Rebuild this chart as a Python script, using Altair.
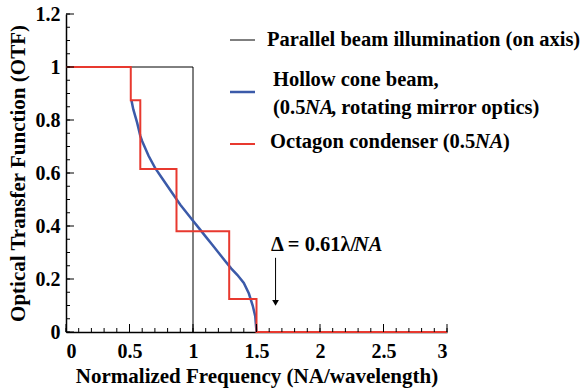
import altair as alt
import pandas as pd

# ---- data ----
par_x = [0, 1, 1]
par_y = [1, 1, 0]

oct_x = [0, 0.51, 0.51, 0.585, 0.585, 0.87, 0.87, 1.285, 1.285, 1.5, 1.5, 3]
oct_y = [1, 1, 0.875, 0.875, 0.615, 0.615, 0.38, 0.38, 0.125, 0.125, 0, 0]

hol_x = [0.515, 0.53, 0.56, 0.585, 0.6, 0.65, 0.7, 0.75, 0.8, 0.85, 0.9, 0.95,
         1.0, 1.05, 1.1, 1.15, 1.2, 1.25, 1.3, 1.35, 1.4, 1.44, 1.47, 1.49, 1.5]
hol_y = [0.875, 0.84, 0.79, 0.74, 0.72, 0.665, 0.62, 0.585, 0.55, 0.515, 0.48, 0.45,
         0.42, 0.39, 0.36, 0.33, 0.30, 0.27, 0.24, 0.215, 0.185, 0.145, 0.10, 0.06, 0.0]

x_major = [0, 0.5, 1, 1.5, 2, 2.5, 3]
x_minor = [round(i * 0.1, 1) for i in range(31)]
y_major = [0, 0.2, 0.4, 0.6, 0.8, 1, 1.2]
y_minor = [round(i * 0.05, 2) for i in range(25)]

arrow_x = [1.65, 1.65]
arrow_y = [0.28, 0.115]
arrow_tip = [0.11]

FONT = "Liberation Serif"
W, H = 381, 318
BLUE = "#3b5aa9"
RED = "#e8392f"

xs = alt.Scale(domain=[0, 3], nice=False)
ys = alt.Scale(domain=[0, 1.2], nice=False)


def line_df(xv, yv):
    return pd.DataFrame({"x": xv, "y": yv, "i": list(range(len(xv)))})


xaxis = alt.Axis(values=x_major, format="~g", title="Normalized Frequency (NA/wavelength)",
                 ticks=False, grid=False, domainColor="black", domainWidth=1.5,
                 labelPadding=9, titlePadding=4, labelFont=FONT, titleFont=FONT)
yaxis = alt.Axis(values=y_major, format="~g", title="Optical Transfer Function (OTF)",
                 ticks=False, grid=False, domainColor="black", domainWidth=1.5,
                 labelPadding=6, titlePadding=7, labelFont=FONT, titleFont=FONT)

par = alt.Chart(line_df(par_x, par_y)).mark_line(color="black", strokeWidth=1).encode(
    x=alt.X("x:Q", scale=xs, axis=xaxis),
    y=alt.Y("y:Q", scale=ys, axis=yaxis),
    order="i:Q",
)
hol = alt.Chart(line_df(hol_x, hol_y)).mark_line(color=BLUE, strokeWidth=2.5).encode(
    x=alt.X("x:Q", scale=xs), y=alt.Y("y:Q", scale=ys), order="i:Q"
)
octl = alt.Chart(line_df(oct_x, oct_y)).mark_line(color=RED, strokeWidth=2).encode(
    x=alt.X("x:Q", scale=xs), y=alt.Y("y:Q", scale=ys), order="i:Q"
)

# inward ticks
xt_major = alt.Chart(pd.DataFrame({"x": x_major})).mark_rule(color="black", strokeWidth=1).encode(
    x=alt.X("x:Q", scale=xs), y=alt.value(H), y2=alt.value(H - 8))
xt_minor = alt.Chart(pd.DataFrame({"x": x_minor})).mark_rule(color="black", strokeWidth=1).encode(
    x=alt.X("x:Q", scale=xs), y=alt.value(H), y2=alt.value(H - 4))
yt_major = alt.Chart(pd.DataFrame({"y": y_major})).mark_rule(color="black", strokeWidth=1).encode(
    y=alt.Y("y:Q", scale=ys), x=alt.value(0), x2=alt.value(8))
yt_minor = alt.Chart(pd.DataFrame({"y": y_minor})).mark_rule(color="black", strokeWidth=1).encode(
    y=alt.Y("y:Q", scale=ys), x=alt.value(0), x2=alt.value(4))

# arrow annotation
arr = alt.Chart(line_df(arrow_x, arrow_y)).mark_line(color="black", strokeWidth=1).encode(
    x=alt.X("x:Q", scale=xs), y=alt.Y("y:Q", scale=ys), order="i:Q")
tip = alt.Chart(pd.DataFrame({"x": arrow_x[:1], "y": arrow_tip})).mark_point(
    shape="triangle-down", filled=True, color="black", size=45, opacity=1).encode(
    x=alt.X("x:Q", scale=xs), y=alt.Y("y:Q", scale=ys))

base_txt = dict(font=FONT, fontWeight="bold", fontSize=20.5, color="black",
                align="left", baseline="middle")


def txt(s, x, y, italic=False):
    kw = dict(base_txt)
    if italic:
        kw["fontStyle"] = "italic"
    return alt.Chart(pd.DataFrame({"t": [s]})).mark_text(**kw).encode(
        text="t:N", x=alt.value(x), y=alt.value(y))


def swatch(color, y, w):
    return alt.Chart(pd.DataFrame({"t": [0]})).mark_rule(color=color, strokeWidth=w).encode(
        x=alt.value(164), x2=alt.value(189), y=alt.value(y))


delta = txt("Δ = 0.61λ/", 205, 231)
delta_na = txt("NA", 288, 231, italic=True)

legend = [
    swatch("black", 26, 1), txt("Parallel beam illumination (on axis)", 201, 26),
    swatch(BLUE, 78, 2.5), txt("Hollow cone beam,", 207, 66),
    txt("(0.5", 207, 94), txt("NA", 239, 94, italic=True),
    txt(", rotating mirror optics)", 265, 94),
    swatch(RED, 130, 2), txt("Octagon condenser (0.5", 204, 128),
    txt("NA", 409, 128, italic=True), txt(")", 437, 128),
]

chart = alt.layer(
    par, hol, octl, xt_major, xt_minor, yt_major, yt_minor, arr, tip, delta, delta_na, *legend
).properties(
    width=W, height=H,
    autosize=alt.AutoSizeParams(type="none"),
    padding={"left": 66, "top": 14, "right": 134, "bottom": 60},
).configure(font=FONT).configure_view(stroke=None).configure_axis(
    labelFont=FONT, labelFontWeight="bold", labelFontSize=20, labelColor="black",
    titleFont=FONT, titleFontWeight="bold", titleFontSize=21, titleColor="black",
)

chart.save("out.html", embed_options={"renderer": "svg", "actions": False})
